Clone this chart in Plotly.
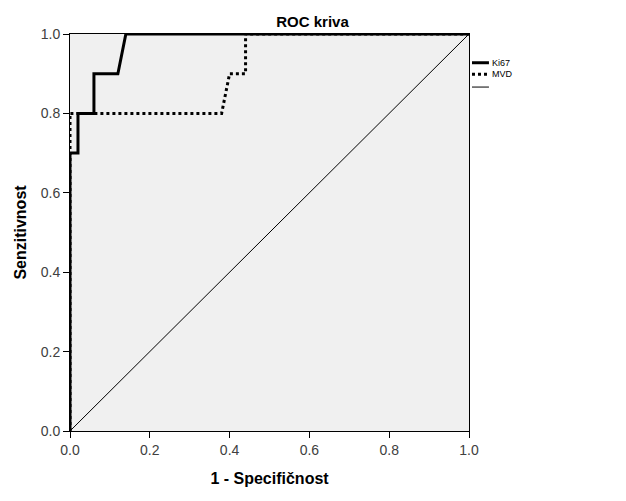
import plotly.graph_objects as go

# ROC curve data (1 - specificity, sensitivity)
ki67_fpr = [0.0, 0.0, 0.02, 0.02, 0.06, 0.06, 0.12, 0.14, 1.0]
ki67_tpr = [0.0, 0.7, 0.7, 0.8, 0.8, 0.9, 0.9, 1.0, 1.0]
mvd_fpr = [0.0, 0.0, 0.38, 0.40, 0.44, 0.44, 1.0]
mvd_tpr = [0.0, 0.8, 0.8, 0.9, 0.9, 1.0, 1.0]
ref_x = [0.0, 1.0]
ref_y = [0.0, 1.0]
tick_vals = [0.0, 0.2, 0.4, 0.6, 0.8, 1.0]
tick_text = ["0.0", "0.2", "0.4", "0.6", "0.8", "1.0"]
legend_names = ["Ki67", "MVD", ""]

FONT = "Liberation Sans, Arial, sans-serif"

fig = go.Figure()
fig.add_trace(go.Scatter(x=ref_x, y=ref_y, mode="lines", name=" ",
                         line=dict(color="black", width=1)))
fig.add_trace(go.Scatter(x=mvd_fpr, y=mvd_tpr, mode="lines", name="MVD",
                         line=dict(color="black", width=3, dash="dot")))
fig.add_trace(go.Scatter(x=ki67_fpr, y=ki67_tpr, mode="lines", name="Ki67",
                         line=dict(color="black", width=3)))

axis_common = dict(
    range=[0, 1], tickvals=tick_vals, ticktext=tick_text,
    showgrid=False, zeroline=False, showline=True, mirror=True,
    linecolor="black", linewidth=1, ticks="outside", ticklen=6,
    tickcolor="black", tickfont=dict(family=FONT, size=14, color="#404040"),
    automargin=False,
)

# manual legend (SPSS style: short line samples to the right of the plot)
leg_styles = [dict(color="black", width=3),
              dict(color="black", width=3, dash="dot"),
              dict(color="#555555", width=1.5)]
leg_y = [0.9276, 0.8984, 0.8663]
shapes = []
annotations = []
for name, st, yy in zip(legend_names, leg_styles, leg_y):
    shapes.append(dict(type="line", xref="paper", yref="paper",
                       x0=1.0075, x1=1.050, y0=yy, y1=yy, line=st))
    if name:
        annotations.append(dict(text=name, xref="paper", yref="paper",
                                x=1.0526, y=yy, xanchor="left", yanchor="middle",
                                showarrow=False,
                                font=dict(family=FONT, size=9, color="black")))

fig.update_layout(
    width=618, height=493,
    margin=dict(l=62, r=157, t=26, b=70),
    paper_bgcolor="white", plot_bgcolor="#f0f0f0",
    font=dict(family=FONT, color="black"),
    title=dict(text="<b>ROC kriva</b>", x=0.4927, xref="container", xanchor="center",
               y=0.972, yref="container", yanchor="middle",
               font=dict(family=FONT, size=15, color="black")),
    xaxis=dict(axis_common, title=dict(text="<b>1 - Specifičnost</b>", standoff=16,
                                       font=dict(family=FONT, size=16, color="black"))),
    yaxis=dict(axis_common, title=dict(text="<b>Senzitivnost</b>", standoff=10,
                                       font=dict(family=FONT, size=16, color="black"))),
    showlegend=False,
    shapes=shapes,
    annotations=annotations,
)

fig.write_html("out.html")
